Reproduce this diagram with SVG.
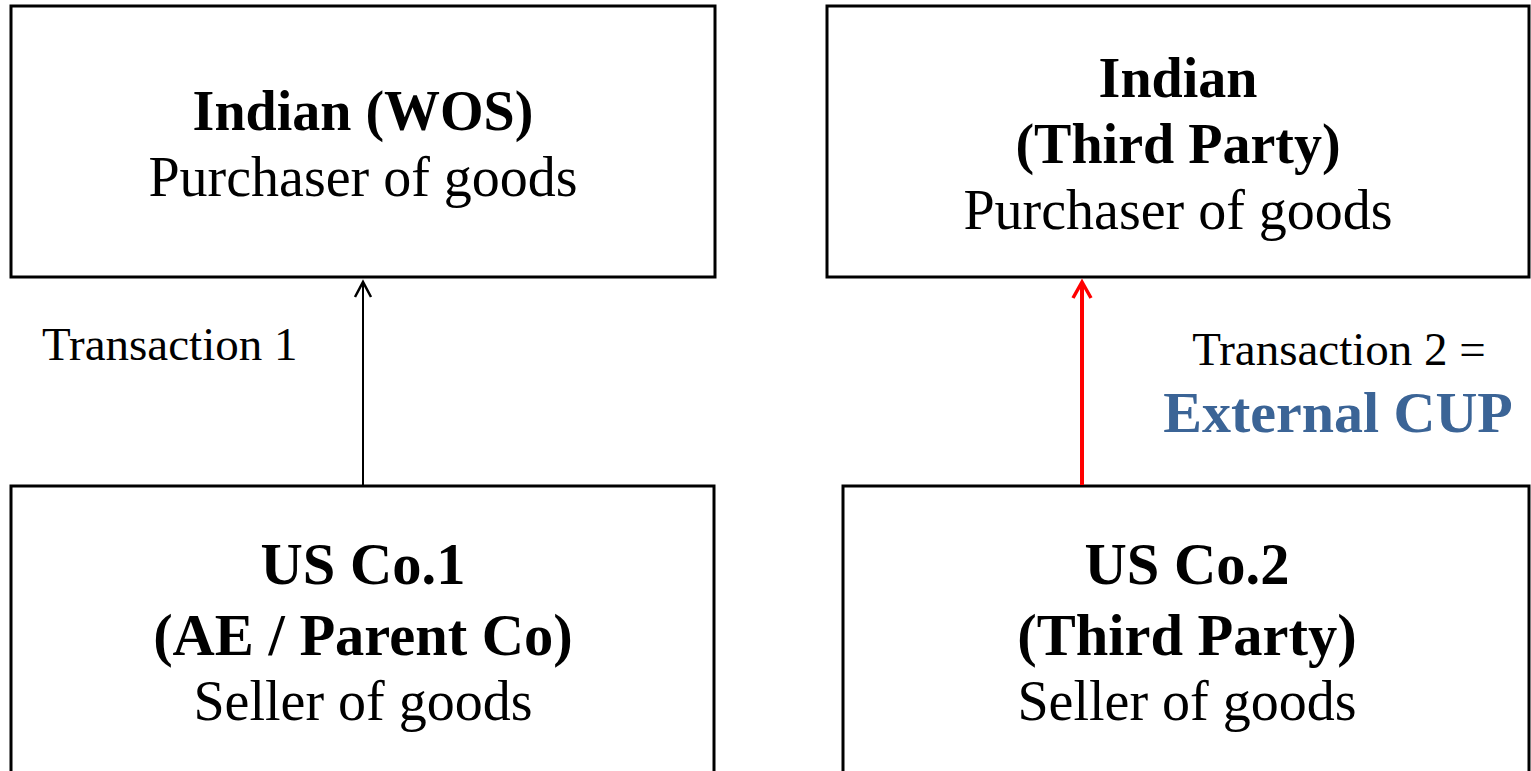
<svg xmlns="http://www.w3.org/2000/svg" width="1531" height="771" viewBox="0 0 1531 771">
<style>
.box{fill:#fff;stroke:#000;stroke-width:3}
.t{font-family:"Liberation Serif","Times New Roman",serif;font-size:56px;text-anchor:middle;fill:#000}
.b{font-weight:bold}
.big{font-size:58.5px}
.lbl{font-family:"Liberation Serif","Times New Roman",serif;font-size:47px;fill:#000}
.cup{font-family:"Liberation Serif","Times New Roman",serif;font-size:58px;font-weight:bold;fill:#3b6496;text-anchor:middle}
</style>
<g id="node-indian-wos">
<rect class="box" x="11" y="6" width="704" height="271"/>
<text class="t b" x="363" y="130">Indian (WOS)</text>
<text class="t" x="363" y="196">Purchaser of goods</text>
</g>
<g id="node-indian-third">
<rect class="box" x="827" y="6" width="702" height="271"/>
<text class="t b" x="1178" y="97">Indian</text>
<text class="t b" x="1178" y="163">(Third Party)</text>
<text class="t" x="1178" y="229">Purchaser of goods</text>
</g>
<g id="node-usco1">
<rect class="box" x="11" y="486" width="703" height="300"/>
<text class="t b big" x="363" y="584">US Co.1</text>
<text class="t b big" x="363" y="655">(AE / Parent Co)</text>
<text class="t" x="363" y="720">Seller of goods</text>
</g>
<g id="node-usco2">
<rect class="box" x="843" y="486" width="686" height="300"/>
<text class="t b big" x="1187" y="584">US Co.2</text>
<text class="t b big" x="1187" y="655">(Third Party)</text>
<text class="t" x="1187" y="720">Seller of goods</text>
</g>
<g id="connectors">
<line x1="363" y1="485" x2="363" y2="282" stroke="#000" stroke-width="2"/>
<polyline points="355,297 363,282 371,297" fill="none" stroke="#000" stroke-width="2.5"/>
<line x1="1082" y1="485" x2="1082" y2="283" stroke="#f00" stroke-width="4"/>
<polyline points="1073,298 1082,282 1091,298" fill="none" stroke="#f00" stroke-width="3.5"/>
<text class="lbl" x="42" y="360">Transaction 1</text>
<text class="lbl" x="1339" y="365" text-anchor="middle">Transaction 2 =</text>
<text class="cup" x="1338" y="432">External CUP</text>
</g>
</svg>
